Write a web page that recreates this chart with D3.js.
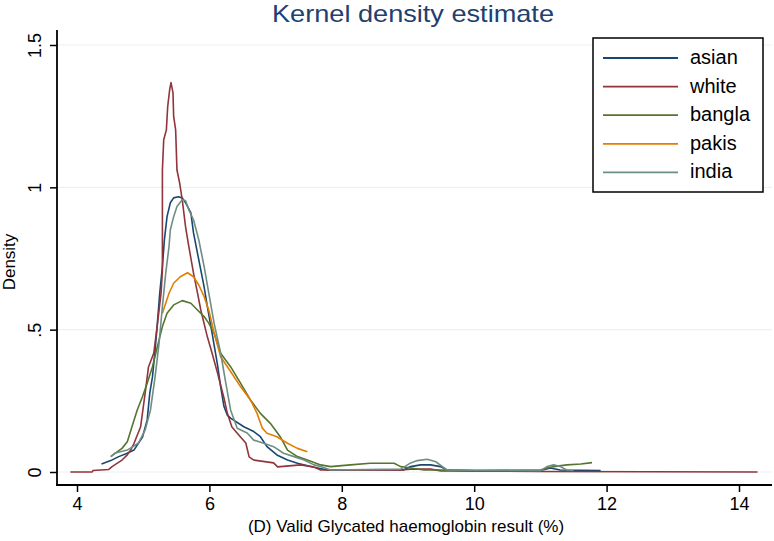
<!DOCTYPE html>
<html>
<head>
<meta charset="utf-8">
<script src="https://cdn.jsdelivr.net/npm/d3@7"></script>
<style>
    body { margin: 0; background: #ffffff; }
    svg { display: block; font-family: "Liberation Sans", Arial, sans-serif; }
</style>
</head>
<body>
<svg id="canvas" width="774" height="541"></svg>
<script>
// density curves: [value, density]
let asian = [[4.37,0.028],[4.51,0.04],[4.63,0.054],[4.75,0.065],[4.86,0.077],[4.99,0.123],[5.06,0.183],[5.10,0.278],[5.14,0.334],[5.18,0.429],[5.21,0.51],[5.25,0.629],[5.29,0.722],[5.32,0.815],[5.36,0.897],[5.41,0.946],[5.46,0.963],[5.53,0.967],[5.59,0.963],[5.64,0.946],[5.72,0.91],[5.76,0.84],[5.84,0.745],[5.92,0.65],[5.97,0.58],[6.04,0.489],[6.12,0.38],[6.17,0.30],[6.22,0.23],[6.27,0.20],[6.32,0.189],[6.52,0.159],[6.67,0.142],[6.77,0.124],[6.87,0.089],[7.02,0.06],[7.18,0.042],[7.33,0.031],[7.53,0.019],[7.78,0.007],[8.93,0.007],[9.04,0.019],[9.19,0.025],[9.34,0.025],[9.49,0.019],[9.59,0.007],[10.02,0.005],[11.0,0.005],[11.15,0.014],[11.30,0.007],[11.91,0.005]]
let white = [[3.90,0],[4.23,0],[4.24,0.005],[4.48,0.009],[4.53,0.019],[4.61,0.031],[4.68,0.042],[4.76,0.06],[4.81,0.077],[4.86,0.1],[4.96,0.158],[5.03,0.278],[5.08,0.369],[5.16,0.418],[5.21,0.51],[5.27,0.629],[5.29,0.71],[5.29,1.061],[5.31,1.167],[5.35,1.202],[5.37,1.284],[5.40,1.343],[5.42,1.368],[5.45,1.332],[5.46,1.249],[5.49,1.202],[5.51,1.061],[5.55,1.016],[5.59,0.956],[5.64,0.861],[5.69,0.791],[5.76,0.699],[5.82,0.629],[5.87,0.569],[5.97,0.474],[6.04,0.418],[6.12,0.35],[6.22,0.26],[6.27,0.207],[6.34,0.158],[6.47,0.123],[6.55,0.102],[6.60,0.053],[6.67,0.042],[6.97,0.032],[7.03,0.018],[7.38,0.025],[7.57,0.018],[7.68,0.007],[8.89,0.007],[9.04,0.01],[9.34,0.01],[9.5,0.004],[11.0,0.002],[14.28,0]]
let bangla = [[4.51,0.054],[4.58,0.066],[4.68,0.083],[4.76,0.106],[4.83,0.159],[4.91,0.218],[4.99,0.265],[5.06,0.312],[5.14,0.37],[5.19,0.417],[5.24,0.464],[5.29,0.511],[5.36,0.558],[5.46,0.587],[5.59,0.602],[5.72,0.593],[5.82,0.569],[5.92,0.546],[5.99,0.523],[6.07,0.488],[6.17,0.417],[6.32,0.37],[6.47,0.312],[6.62,0.253],[6.77,0.206],[6.92,0.171],[7.07,0.124],[7.18,0.077],[7.33,0.054],[7.48,0.042],[7.68,0.025],[7.83,0.019],[8.13,0.025],[8.43,0.031],[8.79,0.031],[8.89,0.019],[9.04,0.014],[9.24,0.007],[9.59,0.007],[10.02,0.004],[11.0,0.007],[11.1,0.014],[11.2,0.019],[11.4,0.025],[11.61,0.028],[11.78,0.033]]
let pakis = [[5.29,0.558],[5.39,0.628],[5.46,0.663],[5.56,0.686],[5.67,0.7],[5.76,0.686],[5.84,0.657],[5.92,0.616],[5.99,0.569],[6.07,0.49],[6.17,0.405],[6.32,0.353],[6.47,0.3],[6.62,0.253],[6.72,0.206],[6.8,0.154],[6.87,0.136],[7.02,0.124],[7.18,0.101],[7.33,0.083],[7.48,0.071]]
let india = [[4.51,0.054],[4.58,0.067],[4.76,0.077],[4.93,0.102],[5.03,0.148],[5.11,0.218],[5.18,0.335],[5.24,0.453],[5.29,0.581],[5.34,0.698],[5.39,0.792],[5.41,0.851],[5.46,0.897],[5.51,0.933],[5.59,0.956],[5.64,0.953],[5.69,0.921],[5.76,0.886],[5.84,0.815],[5.92,0.722],[5.99,0.629],[6.07,0.524],[6.17,0.418],[6.24,0.323],[6.32,0.218],[6.42,0.154],[6.57,0.137],[6.67,0.112],[6.82,0.101],[6.97,0.089],[7.12,0.066],[7.28,0.054],[7.43,0.042],[7.58,0.025],[7.68,0.019],[7.83,0.007],[8.89,0.01],[9.04,0.032],[9.14,0.04],[9.29,0.045],[9.42,0.036],[9.52,0.019],[9.59,0.007],[11.0,0.005],[11.1,0.019],[11.2,0.025],[11.3,0.019],[11.4,0.007],[11.5,0.005]]

let seriesNames = ["asian", "white", "bangla", "pakis", "india"]
let seriesColors = ["#1a476f", "#90353b", "#55752f", "#e37e00", "#6e8e84"]
let xTicks = [4, 6, 8, 10, 12, 14]
let yTicks = [0, 0.5, 1, 1.5]
let yTickLabels = ["0", ".5", "1", "1.5"]

let canvas = d3.select("#canvas")

let xScale = d3.scaleLinear().domain([4, 14]).range([77, 739])
let yScale = d3.scaleLinear().domain([0, 1.5]).range([472, 45])

// gridlines
canvas.selectAll(".grid")
    .data(yTicks)
    .enter()
    .append("line")
    .attr("class", "grid")
    .attr("x1", 58)
    .attr("x2", 772)
    .attr("y1", d => yScale(d))
    .attr("y2", d => yScale(d))
    .attr("stroke", "#eaf2f3")
    .attr("stroke-width", 1.2)

let line = d3.line()
    .x(d => xScale(d[0]))
    .y(d => yScale(d[1]))

let allSeries = [asian, white, bangla, pakis, india]

canvas.selectAll(".kde")
    .data(allSeries)
    .enter()
    .append("path")
    .attr("class", "kde")
    .attr("d", line)
    .attr("fill", "none")
    .attr("stroke", (d, i) => seriesColors[i])
    .attr("stroke-width", 1.6)
    .attr("stroke-linejoin", "round")

// axes
let xAxis = d3.axisBottom(xScale)
    .tickValues(xTicks)
    .tickSizeInner(7)
    .tickSizeOuter(0)
    .tickPadding(5)

let xAxisGroup = canvas.append("g")
    .attr("transform", "translate(0, 485)")
    .call(xAxis)
xAxisGroup.select(".domain").remove()
xAxisGroup.selectAll(".tick line").attr("stroke", "#000").attr("stroke-width", 1.5)
xAxisGroup.selectAll(".tick text")
    .style("font-size", "18px")
    .attr("fill", "#000")

let yAxis = d3.axisLeft(yScale)
    .tickValues(yTicks)
    .tickFormat((d, i) => yTickLabels[i])
    .tickSizeInner(7)
    .tickSizeOuter(0)

let yAxisGroup = canvas.append("g")
    .attr("transform", "translate(57, 0)")
    .call(yAxis)
yAxisGroup.select(".domain").remove()
yAxisGroup.selectAll(".tick line").attr("stroke", "#000").attr("stroke-width", 1.5)
yAxisGroup.selectAll(".tick text")
    .attr("x", 0)
    .attr("dy", null)
    .attr("transform", "translate(-16, 0) rotate(-90)")
    .attr("text-anchor", "middle")
    .style("font-size", "18px")
    .attr("fill", "#000")

canvas.append("line")
    .attr("x1", 57).attr("x2", 57)
    .attr("y1", 30).attr("y2", 486)
    .attr("stroke", "#000").attr("stroke-width", 1.8)

canvas.append("line")
    .attr("x1", 56).attr("x2", 772)
    .attr("y1", 485).attr("y2", 485)
    .attr("stroke", "#000").attr("stroke-width", 1.8)

// titles
canvas.append("text")
    .attr("x", 413)
    .attr("y", 22)
    .attr("text-anchor", "middle")
    .attr("fill", "#22406e")
    .attr("textLength", 282)
    .attr("lengthAdjust", "spacingAndGlyphs")
    .style("font-size", "24px")
    .text("Kernel density estimate")

canvas.append("text")
    .attr("x", 406)
    .attr("y", 532)
    .attr("text-anchor", "middle")
    .attr("fill", "#000")
    .style("font-size", "17px")
    .text("(D) Valid Glycated haemoglobin result (%)")

canvas.append("text")
    .attr("transform", "translate(15, 262) rotate(-90)")
    .attr("text-anchor", "middle")
    .attr("fill", "#000")
    .style("font-size", "17px")
    .text("Density")

// legend
let legend = canvas.append("g")
    .attr("id", "legend")
    .attr("transform", "translate(593, 38)")

legend.append("rect")
    .attr("width", 170)
    .attr("height", 154)
    .attr("fill", "#fff")
    .attr("stroke", "#000")
    .attr("stroke-width", 1.5)

let legendItems = legend.selectAll(".item")
    .data(seriesNames)
    .enter()
    .append("g")
    .attr("class", "item")
    .attr("transform", (d, i) => "translate(0, " + (20 + i * 28.6) + ")")

legendItems.append("line")
    .attr("x1", 10)
    .attr("x2", 85)
    .attr("stroke", (d, i) => seriesColors[i])
    .attr("stroke-width", 1.8)

legendItems.append("text")
    .attr("x", 97)
    .attr("y", 6)
    .attr("fill", "#000")
    .style("font-size", "20px")
    .text(d => d)
</script>
</body>
</html>
